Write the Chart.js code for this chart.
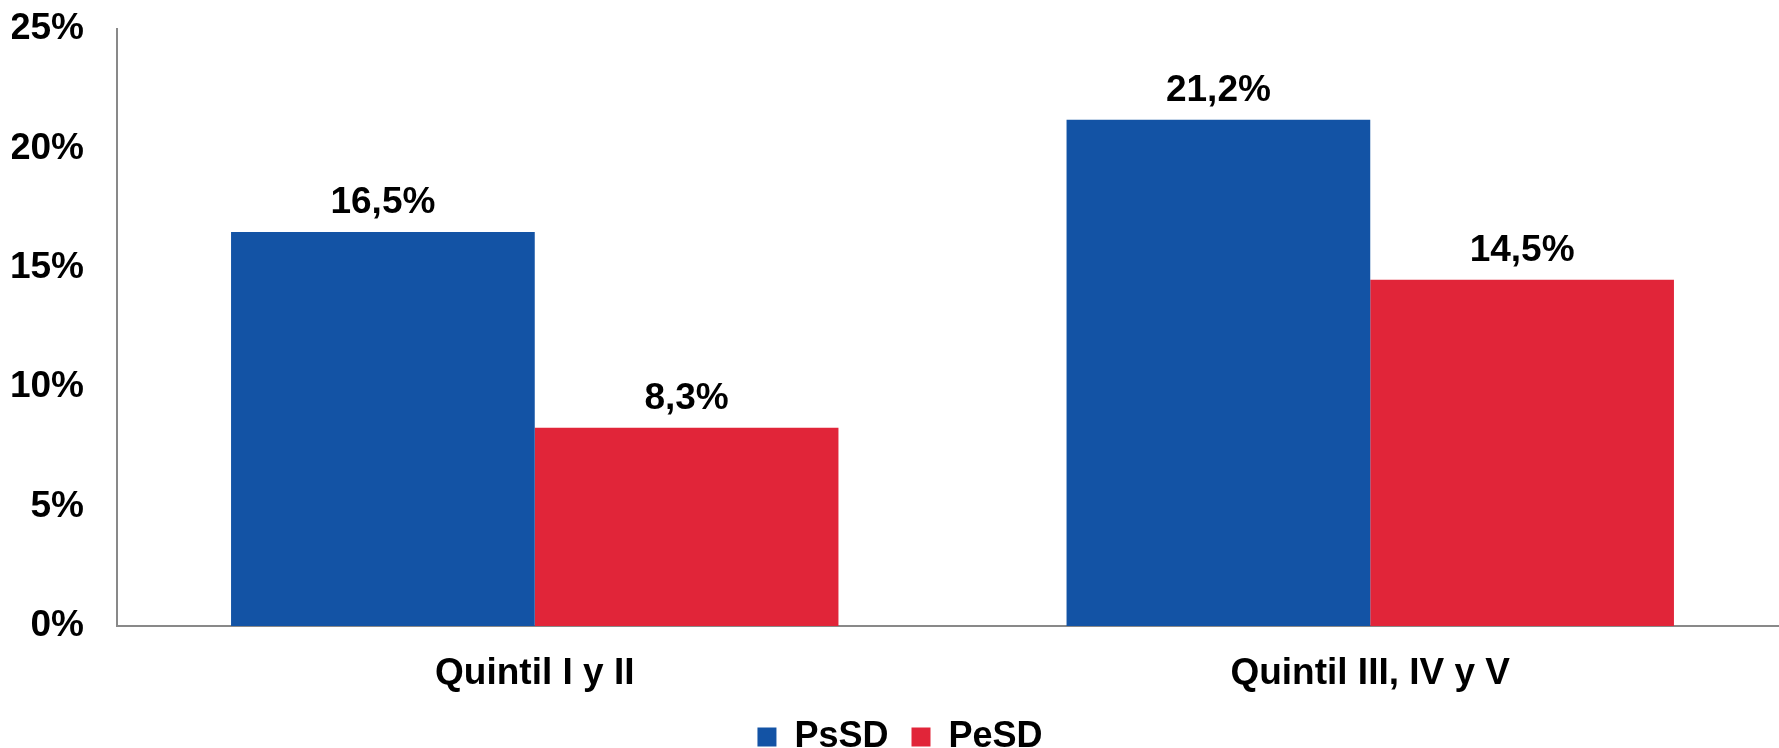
<!DOCTYPE html>
<html lang="es">
<head>
<meta charset="utf-8">
<title>PsSD vs PeSD por quintil</title>
<script src="https://cdn.jsdelivr.net/npm/chart.js@4.4.1/dist/chart.umd.min.js"></script>
<style>
  html, body { margin: 0; padding: 0; background: #fff; overflow: hidden; }
  /* un poco mas grande que la ventana: el eje x y la leyenda quedan cortados como en el original */
  #contenedor { width: 1788px; height: 765px; position: relative; }
</style>
</head>
<body>
<div id="contenedor"><canvas id="grafico"></canvas></div>
<script>
// datos del grafico
const categorias = ["Quintil I y II", "Quintil III, IV y V"];
const psSD = [16.5, 21.2];
const peSD = [8.3, 14.5];
const ticksY = [0, 5, 10, 15, 20, 25];

const AZUL = "#1353a5";
const ROJO = "#e12539";
const fuente = "'Liberation Sans', Arial, sans-serif";

// formato con coma decimal: 16.5 -> "16,5%"
function conComa(v) {
  return v.toFixed(1).replace(".", ",") + "%";
}

// plugin chico para poner el valor arriba de cada barra
const etiquetas = {
  id: "etiquetas",
  afterDatasetsDraw(chart) {
    const ctx = chart.ctx;
    ctx.save();
    ctx.font = `bold 37px ${fuente}`;
    ctx.fillStyle = "#000";
    ctx.textAlign = "center";
    ctx.textBaseline = "alphabetic";
    chart.data.datasets.forEach((ds, i) => {
      chart.getDatasetMeta(i).data.forEach((barra, j) => {
        ctx.fillText(conComa(ds.data[j]), barra.x, barra.y - 19);
      });
    });
    ctx.restore();
  },
};

const canvas = document.getElementById("grafico");

new Chart(canvas, {
  type: "bar",
  data: {
    labels: categorias,
    datasets: [
      { label: "PsSD", data: psSD, backgroundColor: AZUL },
      { label: "PeSD", data: peSD, backgroundColor: ROJO },
    ],
  },
  options: {
    responsive: true,
    maintainAspectRatio: false,
    animation: false,
    datasets: {
      bar: { barPercentage: 1, categoryPercentage: 0.727 },
    },
    layout: { padding: { left: 12, right: 0, top: 0, bottom: 0 } },
    plugins: {
      legend: {
        position: "bottom",
        labels: {
          boxWidth: 19,
          boxHeight: 19,
          padding: 23,
          color: "#000",
          font: { family: fuente, size: 36, weight: "bold" },
        },
      },
      tooltip: { enabled: false },
    },
    scales: {
      x: {
        grid: { display: false, drawTicks: false },
        border: { color: "#898989", width: 2 },
        ticks: {
          color: "#000",
          padding: 26,
          font: { family: fuente, size: 37, weight: "bold" },
        },
        // alto fijo para que entre la "y" de las etiquetas
        afterFit: (eje) => {
          eje.height = 70;
        },
      },
      y: {
        min: 0,
        max: 25,
        afterBuildTicks: (eje) => {
          eje.ticks = ticksY.map((v) => ({ value: v }));
        },
        grid: { display: false, drawTicks: false },
        border: { color: "#898989", width: 2 },
        ticks: {
          color: "#000",
          padding: 33,
          font: { family: fuente, size: 37, weight: "bold" },
          callback: (v) => v + "%",
        },
        // ancho fijo del eje y margen de arriba chico (el padding de ticks lo agranda de mas)
        afterFit: (eje) => {
          eje.width = 105;
          eje.paddingTop = 29;
        },
      },
    },
  },
  plugins: [etiquetas],
});
</script>
</body>
</html>
